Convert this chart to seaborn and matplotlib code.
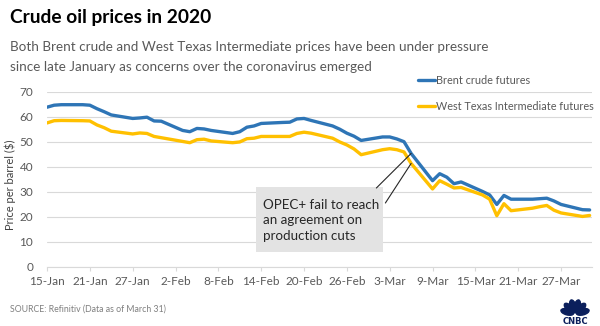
import numpy as np
import pandas as pd
import matplotlib
matplotlib.use("Agg")
import matplotlib.pyplot as plt
import matplotlib.dates as mdates
from matplotlib.patches import Rectangle, Ellipse
import seaborn as sns

# ---- data -------------------------------------------------------------
dates = pd.bdate_range("2020-01-15", "2020-03-31")

brent = [63.8, 64.6, 64.8, 64.8, 64.6, 63.2, 62.0, 60.7, 59.3, 59.5, 59.8, 58.3, 58.2,
         54.5, 54.0, 55.3, 55.1, 54.5, 53.3, 54.0, 55.8, 56.3, 57.3, 57.7, 57.8, 59.1,
         59.3, 58.5, 56.3, 55.0, 53.4, 52.2, 50.5,
         51.9, 51.9, 51.1, 50.0, 45.3, 34.4, 37.2, 35.8, 33.2, 33.9, 30.1, 28.7, 24.9,
         28.5, 27.0, 27.0, 27.2, 27.4, 26.3, 24.9, 22.8, 22.7]

wti = [57.5, 58.4, 58.5, 58.4, 58.3, 56.7, 55.6, 54.2, 53.1, 53.5, 53.3, 52.1, 51.6,
       50.1, 49.6, 50.8, 51.0, 50.3, 49.6, 49.9, 51.2, 51.4, 52.1, 52.1, 52.1, 53.3,
       53.8, 53.4, 51.4, 49.9, 48.7, 47.1, 44.8,
       46.8, 47.2, 46.8, 45.9, 41.3, 31.1, 34.4, 33.0, 31.5, 31.7, 28.7, 27.0, 20.4,
       25.2, 22.4, 23.4, 24.0, 24.5, 22.6, 21.5, 20.1, 20.5]

series_names = ["Brent crude futures", "West Texas Intermediate futures"]
series_colors = ["#2E75B6", "#FFC000"]

tick_dates = pd.date_range("2020-01-15", "2020-03-27", freq="6D")
tick_labels = [f"{d.day}-{d.strftime('%b')}" for d in tick_dates]
y_ticks = [0, 10, 20, 30, 40, 50, 60, 70]

event_date = pd.Timestamp("2020-03-06")
event_text = "OPEC+ fail to reach\nan agreement on\nproduction cuts"

df = pd.concat([
    pd.DataFrame({"date": dates, "price": brent, "series": series_names[0]}),
    pd.DataFrame({"date": dates, "price": wti, "series": series_names[1]}),
])

# ---- style ------------------------------------------------------------
sns.set_style("white")
plt.rcParams["font.family"] = ["Lato", "DejaVu Sans"]

fig = plt.figure(figsize=(6.0, 3.26), dpi=100)
ax = fig.add_axes([47 / 600, 1 - 266.7 / 326, (592 - 47) / 600, (266.7 - 91.7) / 326])

sns.lineplot(data=df, x="date", y="price", hue="series",
             palette=dict(zip(series_names, series_colors)),
             linewidth=2.4, ax=ax, legend=False)

# axes
ax.set_ylim(0, 70)
ax.set_yticks(y_ticks)
ax.set_xlim(pd.Timestamp("2020-01-15"), pd.Timestamp("2020-03-31") + pd.Timedelta(hours=8))
ax.set_xticks(tick_dates)
ax.set_xticklabels(tick_labels)
ax.grid(axis="y", color="#d9d9d9", linewidth=0.8)
ax.set_axisbelow(True)
for s in ["top", "right", "left"]:
    ax.spines[s].set_visible(False)
ax.spines["bottom"].set_color("#d9d9d9")
ax.spines["bottom"].set_linewidth(0.8)
ax.tick_params(axis="x", length=3, color="#d9d9d9", labelcolor="#595959", labelsize=8.5,
               pad=4, direction="out", bottom=True)
ax.tick_params(axis="y", length=0, labelsize=8.5, pad=10, labelcolor="#595959")
ax.set_xlabel("")
ax.set_ylabel("Price per barrel ($)", fontsize=8, color="#404040")
ax.yaxis.set_label_coords(-0.057, 0.47)

# legend
handles = [plt.Line2D([], [], color=c, lw=2.4) for c in series_colors]
fig.legend(handles, series_names, loc="upper left",
           bbox_to_anchor=(418 / 600, 1 - 75 / 326), frameon=False,
           fontsize=7.8, labelcolor="#595959", handlelength=1.55, handletextpad=0.15,
           labelspacing=1.35, borderpad=0, borderaxespad=0)

# annotation box
x0 = mdates.date2num(pd.Timestamp("2020-01-15"))
px_day = (589 - 47) / 76.0
def xpx(p):
    return x0 + (p - 47) / px_day
def ypx(p):
    return (266.7 - p) / 2.5

ax.add_patch(Rectangle((xpx(256), ypx(252)), xpx(383) - xpx(256), ypx(187) - ypx(252),
                       facecolor="#e3e3e3", edgecolor="none", zorder=3))
ax.text(xpx(263), ypx(220.5), event_text, fontsize=9.6, color="#262626",
        va="center", ha="left", linespacing=1.35, zorder=4)

ev = mdates.date2num(event_date)
b_ev = brent[list(dates).index(event_date)]
w_ev = wti[list(dates).index(event_date)]
ax.plot([xpx(376), ev], [ypx(188), b_ev], color="#262626", lw=0.8, zorder=5)
ax.plot([xpx(385), ev], [ypx(203), w_ev], color="#262626", lw=0.8, zorder=5)

# titles
fig.text(10 / 600, 1 - 17 / 326, "Crude oil prices in 2020", fontsize=13.8,
         fontweight="bold", color="#000000", va="center", ha="left")
fig.text(10 / 600, 1 - 47 / 326,
         "Both Brent crude and West Texas Intermediate prices have been under pressure",
         fontsize=9.7, color="#595959", va="center", ha="left")
fig.text(10 / 600, 1 - 67 / 326,
         "since late January as concerns over the coronavirus emerged",
         fontsize=9.7, color="#595959", va="center", ha="left")
fig.text(10 / 600, 1 - 309 / 326, "SOURCE: Refinitiv (Data as of March 31)",
         fontsize=6.3, color="#7f7f7f", va="center", ha="left")

# CNBC peacock mark
lax = fig.add_axes([557 / 600, 0, 36 / 600, 32 / 326])
lax.set_xlim(0, 36)
lax.set_ylim(0, 32)
lax.axis("off")
navy = "#0b1f5c"
for ang in [15, 45, 75, 105, 135, 165]:
    r = np.deg2rad(ang)
    cx, cy = 18 + 8 * np.cos(r), 12 + 8 * np.sin(r)
    lax.add_patch(Ellipse((cx, cy), 13, 6, angle=ang, color=navy))
lax.text(18, 4, "CNBC", fontsize=6, fontweight="bold", color=navy,
         ha="center", va="center", family="DejaVu Sans")

fig.savefig("out.png", dpi=100)
